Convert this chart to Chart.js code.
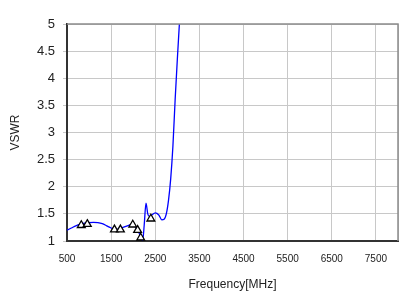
<!DOCTYPE html>
<html>
<head>
<meta charset="utf-8">
<script src="https://cdn.jsdelivr.net/npm/chart.js@4/dist/chart.umd.min.js"></script>
<style>
  body { margin: 0; background: #fff; }
  canvas { display: block; }
</style>
</head>
<body>
<canvas id="vswrChart" width="399" height="294"></canvas>
<script>
// Measured VSWR curve
const freqs = [500, 600, 700, 800, 900, 1000, 1100, 1200, 1300, 1400, 1500, 1600, 1700, 1800, 1900, 1970,
  2050, 2120, 2180, 2215, 2250, 2290, 2330, 2370, 2420, 2500, 2580, 2650, 2700, 2750, 2800, 2850,
  2900, 2950, 3000, 3050, 3100];
const vswr = [1.20, 1.24, 1.28, 1.31, 1.33, 1.34, 1.345, 1.34, 1.32, 1.28, 1.24, 1.21, 1.23, 1.26, 1.29, 1.31,
  1.26, 1.17, 1.06, 1.01, 1.30, 1.70, 1.50, 1.45, 1.48, 1.52, 1.48, 1.39, 1.40, 1.50, 1.75, 2.15,
  2.75, 3.60, 4.35, 5.05, 5.80];

// Triangle markers (band points)
const markerFreqs = [824, 960, 1575, 1710, 1990, 2100, 2170, 2400];
const markerVswr = [1.29, 1.31, 1.21, 1.21, 1.30, 1.20, 1.06, 1.41];

const xTicks = [500, 1500, 2500, 3500, 4500, 5500, 6500, 7500, 8000];

const curvePoints = freqs.map((f, i) => ({ x: f, y: vswr[i] }));
const markerPoints = markerFreqs.map((f, i) => ({ x: f, y: markerVswr[i] }));

// draws the top and right frame lines
const framePlugin = {
  id: 'frame',
  afterDraw(chart) {
    const a = chart.chartArea;
    const ctx = chart.ctx;
    ctx.save();
    ctx.strokeStyle = '#8c8c8c';
    ctx.lineWidth = 1.5;
    ctx.beginPath();
    ctx.moveTo(a.left, a.top);
    ctx.lineTo(a.right, a.top);
    ctx.lineTo(a.right, a.bottom);
    ctx.stroke();
    ctx.restore();
  }
};

const ctx = document.getElementById('vswrChart').getContext('2d');
new Chart(ctx, {
  type: 'line',
  data: {
    datasets: [
      {
        data: markerPoints,
        showLine: false,
        pointStyle: 'triangle',
        pointRadius: 4.5,
        pointBackgroundColor: '#fff',
        pointBorderColor: '#000',
        pointBorderWidth: 1.3,
        order: 0
      },
      {
        data: curvePoints,
        borderColor: '#0000ff',
        borderWidth: 1.3,
        pointRadius: 0,
        cubicInterpolationMode: 'monotone',
        fill: false,
        order: 1
      }
    ]
  },
  options: {
    responsive: false,
    animation: false,
    layout: { autoPadding: false, padding: { top: 24, right: 1, left: 0, bottom: 0 } },
    plugins: {
      legend: { display: false },
      tooltip: { enabled: false }
    },
    scales: {
      x: {
        type: 'linear',
        min: 500,
        max: 8000,
        afterBuildTicks(scale) {
          scale.ticks = xTicks.map(v => ({ value: v }));
        },
        afterFit(scale) {
          scale.height = 53;
          scale.paddingLeft = 0;
          scale.paddingRight = 0;
        },
        grid: { color: '#c8c8c8', lineWidth: 1, drawTicks: false },
        border: { color: '#333', width: 2 },
        ticks: {
          padding: 12,
          maxRotation: 0,
          color: '#222',
          font: { family: 'Liberation Sans', size: 10 },
          callback: v => (v === 8000 ? '' : String(v))
        },
        title: {
          display: true,
          text: 'Frequency[MHz]',
          color: '#222',
          font: { family: 'Liberation Sans', size: 12 },
          padding: { top: 0, bottom: 2 }
        }
      },
      y: {
        min: 1,
        max: 5,
        afterFit(scale) { scale.width = 67; },
        grid: { color: '#c8c8c8', lineWidth: 1, tickLength: 4 },
        border: { color: '#333', width: 2 },
        ticks: {
          stepSize: 0.5,
          padding: 8,
          color: '#222',
          font: { family: 'Liberation Sans', size: 13 },
          callback: v => String(v)
        },
        title: {
          display: true,
          text: 'VSWR',
          color: '#222',
          font: { family: 'Liberation Sans', size: 12 },
          padding: { top: 8, bottom: 0 }
        }
      }
    }
  },
  plugins: [framePlugin]
});
</script>
</body>
</html>
